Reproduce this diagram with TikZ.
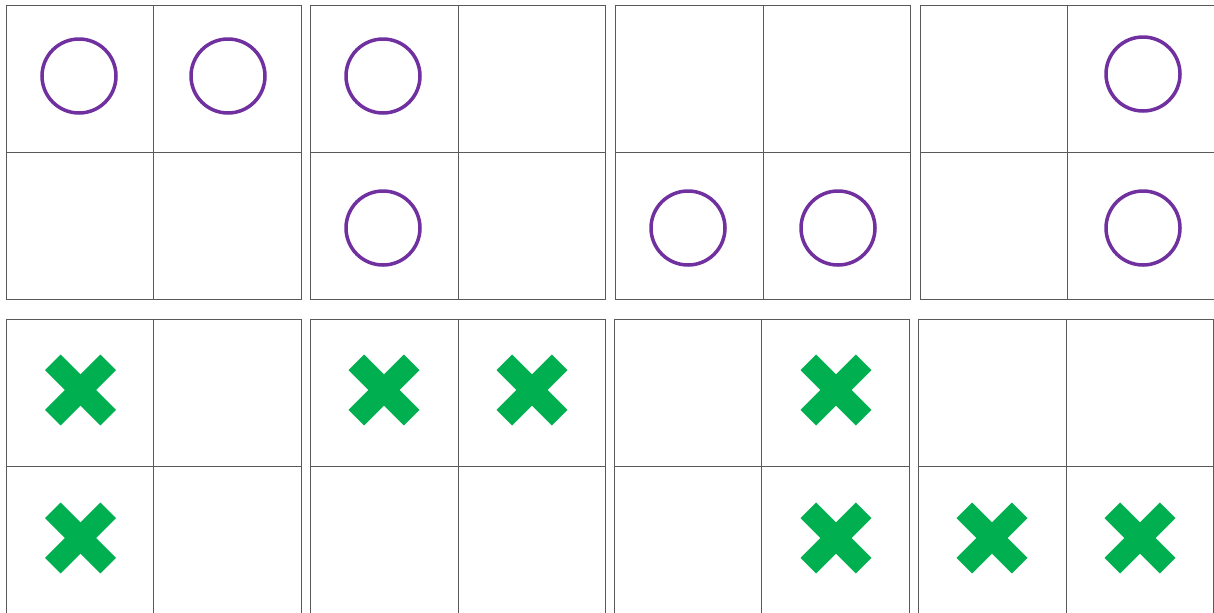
\documentclass[tikz,border=0pt]{standalone}
\definecolor{opurple}{HTML}{7030A0}
\definecolor{xgreen}{HTML}{00B050}
\tikzset{
  gridline/.style={draw=black!65, line width=0.45pt},
  ocircle/.style={draw=opurple, line width=1.75pt},
  xarm/.style={draw=xgreen, line width=11pt, line cap=butt},
}
\newcommand{\ggrid}[5]{% x0 y0 xmid ymid height
  \draw[gridline] (#1,#2) rectangle ++(295,#5);
  \draw[gridline] (#3,#2) -- ++(0,#5);
  \draw[gridline] (#1,#4) -- ++(295,0);
}
\newcommand{\ocirc}[2]{\draw[ocircle] (#1,#2) circle (37);}
\newcommand{\xmark}[2]{%
  \draw[xarm] (#1-27.7,#2-27.7) -- (#1+27.7,#2+27.7);
  \draw[xarm] (#1-27.7,#2+27.7) -- (#1+27.7,#2-27.7);
}
\begin{document}
\begin{tikzpicture}[x=0.5pt,y=-0.5pt]
\useasboundingbox (0,0) rectangle (1214,612);
\fill[white] (0,0) rectangle (1214,612);
\begin{scope}
\clip (0,0) rectangle (1214,612);
% top row
\ggrid{6}{5}{153}{152}{294}
\ggrid{310}{5}{458}{152}{294}
\ggrid{615}{5}{763}{152}{294}
\ggrid{920}{5}{1067}{152}{294}
% bottom row
\ggrid{6}{319}{153}{466}{297}
\ggrid{310}{319}{458}{466}{297}
\ggrid{614}{319}{761}{466}{297}
\ggrid{918}{319}{1066}{466}{297}
\end{scope}
% circles
\ocirc{79}{76}
\ocirc{228}{76}
\ocirc{383}{76}
\ocirc{383}{228}
\ocirc{688}{228}
\ocirc{838}{228}
\ocirc{1143}{74}
\ocirc{1143}{228}
% crosses
\xmark{80.5}{390}
\xmark{80.5}{538}
\xmark{384}{390}
\xmark{532}{390}
\xmark{836}{390}
\xmark{836}{538}
\xmark{992}{538}
\xmark{1140}{538}
\end{tikzpicture}
\end{document}
